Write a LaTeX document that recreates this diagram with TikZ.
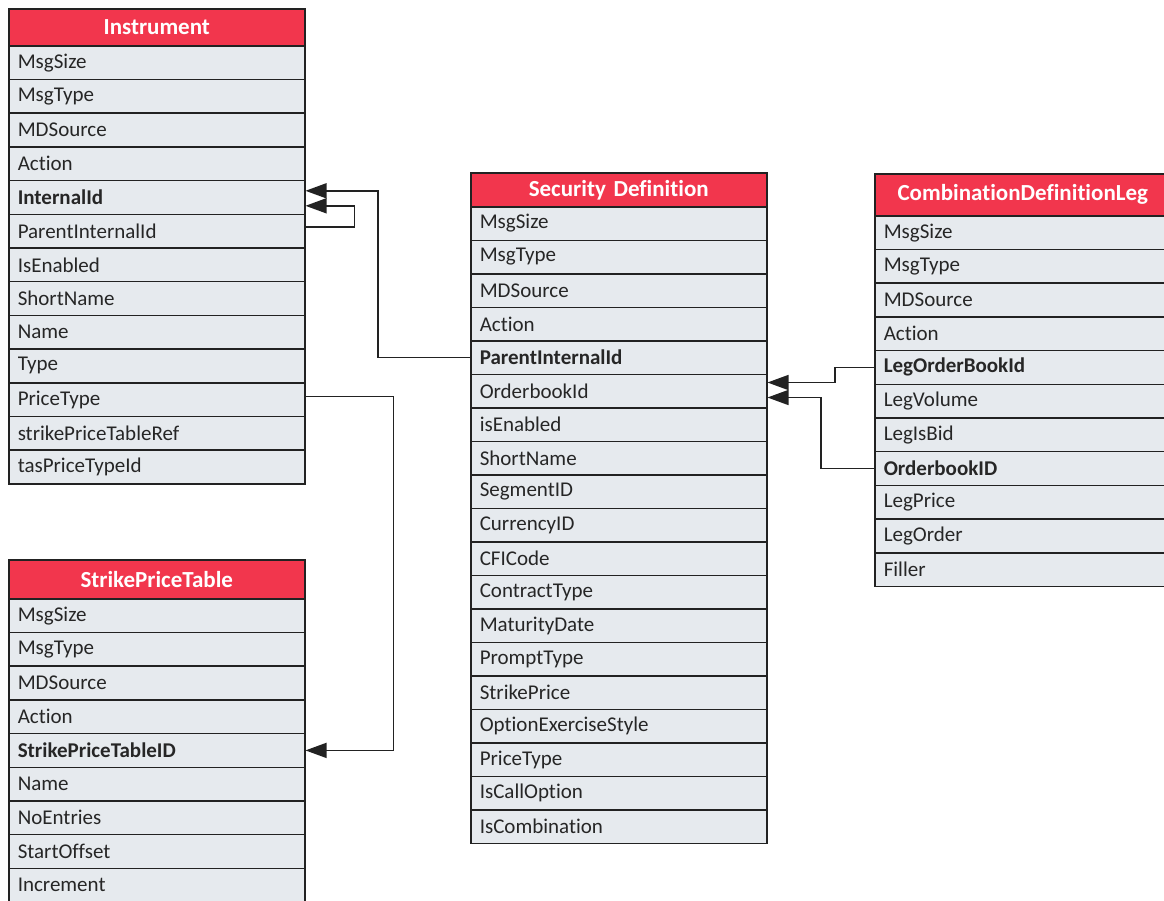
\documentclass[tikz,border=0pt]{standalone}
\usepackage{fontspec}
\setmainfont{Carlito}[Ligatures={NoCommon}]
\usetikzlibrary{arrows.meta}

\definecolor{headred}{HTML}{F2364D}
\definecolor{rowfill}{HTML}{E6EAEE}
\definecolor{edgec}{HTML}{222222}
\definecolor{txtc}{HTML}{262626}

\newcommand\rowfont{\fontsize{21}{24}\selectfont}
\newcommand\headfont{\fontsize{23}{26}\selectfont\bfseries}

% One table: name, left x, top y, header height, row height, title, fields
\newcommand\dbtable[7]{%
  \node[headbox, minimum height=#4pt] (#1-0) at (#2,#3) {#6};
  \foreach \f [count=\i] in {#7} {
    \node[rowbox, minimum height=#5pt] (#1-\i) at (#2,{#3+#4+(\i-1)*#5}) {\f};
  }
}

\tikzset{
  rowbox/.style={draw=edgec, fill=rowfill, line width=1.5pt, anchor=north west,
    minimum width=296pt, inner xsep=9pt, inner ysep=0pt,
    text width=278pt, align=left, font=\rowfont, text=txtc},
  headbox/.style={draw=edgec, fill=headred, line width=1.5pt, anchor=north west,
    minimum width=296pt, inner xsep=6pt, inner ysep=0pt,
    text width=284pt, align=center, font=\headfont, text=white},
  link/.style={draw=edgec, line width=1.5pt,
    -{Triangle[length=21pt,width=15pt]}}
}

\begin{document}
\begin{tikzpicture}[x=1pt,y=-1pt]
\useasboundingbox (0,0) rectangle (1164,900);
\fill[white] (0,0) rectangle (1164,900);

\dbtable{ins}{8}{8}{37}{33.7}{Instrument}{MsgSize,MsgType,MDSource,Action,{\textbf{InternalId}},ParentInternalId,IsEnabled,ShortName,Name,Type,PriceType,strikePriceTableRef,tasPriceTypeId}

\dbtable{spt}{8}{559}{39}{33.7}{StrikePriceTable}{MsgSize,MsgType,MDSource,Action,{\textbf{StrikePriceTableID}},Name,NoEntries,StartOffset,Increment}

\dbtable{sd}{470}{172}{34}{33.5}{Security Definition}{MsgSize,MsgType,MDSource,Action,{\textbf{ParentInternalId}},OrderbookId,isEnabled,ShortName,SegmentID,CurrencyID,CFICode,ContractType,MaturityDate,PromptType,StrikePrice,OptionExerciseStyle,PriceType,IsCallOption,IsCombination}

\dbtable{cdl}{874}{173}{42}{33.7}{CombinationDefinitionLeg}{MsgSize,MsgType,MDSource,Action,{\textbf{LegOrderBookId}},LegVolume,LegIsBid,{\textbf{OrderbookID}},LegPrice,LegOrder,Filler}

% references between tables
\draw[link] (sd-5.west) -- ++(-92,0) |- ([yshift=6.6pt]ins-5.east);
\draw[link] ([yshift=4pt]ins-6.east) -- ++(49,0) |- ([yshift=-8.4pt]ins-5.east);
\draw[link] ([yshift=3pt]ins-11.east) -- ++(88,0) |- (spt-5.east);
\draw[link] (cdl-5.west) -- ++(-39,0) |- ([yshift=8.5pt]sd-6.east);
\draw[link] (cdl-8.west) -- ++(-53,0) |- ([yshift=-6.5pt]sd-6.east);
\end{tikzpicture}
\end{document}
